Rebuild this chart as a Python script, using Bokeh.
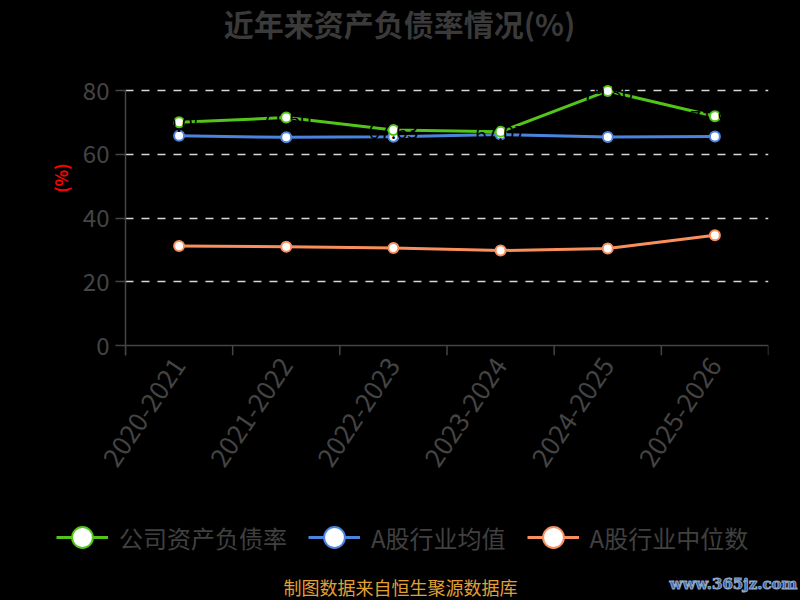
import math
from bokeh.plotting import figure
from bokeh.layouts import column
from bokeh.models import (ColumnDataSource, Legend, LegendItem, Label, Range1d,
                          CategoricalAxis, LinearAxis, FixedTicker, Span)
from bokeh.transform import dodge
from bokeh.core.properties import value
from bokeh.embed import file_html
from bokeh.resources import INLINE

# ---- data ----
years = ["2020-2021", "2021-2022", "2022-2023", "2023-2024", "2024-2025", "2025-2026"]
company = [70.05, 71.50, 67.63, 67.07, 79.86, 71.90]
industry_mean = [65.8, 65.3, 65.5, 66.2, 65.4, 65.6]
industry_median = [31.2, 31.0, 30.6, 29.8, 30.4, 34.6]
y_ticks = [0, 20, 40, 60, 80]

title_text = "近年来资产负债率情况(%)"
names = ["公司资产负债率", "A股行业均值", "A股行业中位数"]
colors = ["#52c41a", "#4b84dc", "#f98f5c"]
footer_text = "制图数据来自恒生聚源数据库"
watermark_text = "www.365jz.com"

CJK = "Noto Sans CJK SC"
GRAY = "#444444"
BG = {"background-color": "black"}

W = 800
PX_PER_UNIT = 255 / 80.0
TICK_LEN = 10
Y_LO = -TICK_LEN / PX_PER_UNIT
TOP_SPACE = 90          # px above the value 80
FRAME_H = 355           # frame height of the main plot
H1 = 490                # main plot canvas height
H2 = 600 - H1           # legend / footer strip

p = figure(width=W, height=H1, x_range=years,
           y_range=Range1d(Y_LO, 80 + TOP_SPACE / PX_PER_UNIT),
           output_backend="svg", toolbar_location=None, x_axis_location=None,
           min_border_left=125, min_border_right=32, min_border_top=0,
           min_border_bottom=H1 - FRAME_H, frame_align=False, styles=BG)
p.background_fill_color = "black"
p.border_fill_color = "black"
p.outline_line_color = None

# title inside the (extended) frame
p.add_layout(Label(x=274, y=FRAME_H - 22.5, x_units="screen", y_units="screen",
                   text=title_text, text_align="center", text_baseline="middle",
                   text_font=CJK, text_font_size="30px", text_font_style="bold",
                   text_color="#3a3a3a"))

# category labels below (no line / ticks: drawn separately at band edges)
cat_axis = CategoricalAxis(axis_line_color=None, major_tick_line_color=None,
                           major_tick_out=0, major_tick_in=0,
                           major_label_orientation=math.radians(56),
                           major_label_standoff=5,
                           major_label_text_font=CJK,
                           major_label_text_font_size="26px",
                           major_label_text_color=GRAY)
p.add_layout(cat_axis, "below")

# x axis line at 0 and ticks at band edges
p.add_layout(Span(location=0, dimension="width", line_color=GRAY, line_width=1.5))
edge_src = ColumnDataSource(dict(x=years, y0=[0] * len(years), y1=[Y_LO] * len(years)))
p.segment(x0=dodge("x", -0.5, range=p.x_range), x1=dodge("x", -0.5, range=p.x_range),
          y0="y0", y1="y1", source=edge_src, line_color=GRAY, line_width=1.5)
last_src = ColumnDataSource(dict(x=years[-1:], y0=[0], y1=[Y_LO]))
p.segment(x0=dodge("x", 0.5, range=p.x_range), x1=dodge("x", 0.5, range=p.x_range),
          y0="y0", y1="y1", source=last_src, line_color=GRAY, line_width=1.5)

# y axis
yax = p.yaxis[0]
yax.bounds = (Y_LO, 80)
yax.ticker = FixedTicker(ticks=y_ticks)
yax.axis_line_color = GRAY
yax.axis_line_width = 1.5
yax.major_tick_line_color = GRAY
yax.major_tick_line_width = 1.5
yax.major_tick_out = TICK_LEN
yax.major_tick_in = 0
yax.minor_tick_line_color = None
yax.major_label_text_font = CJK
yax.major_label_text_font_size = "24px"
yax.major_label_text_color = GRAY
yax.major_label_standoff = 6

# unit label "(%)" near the top of the value axis
unit_axis = LinearAxis(bounds=(60, 78), ticker=FixedTicker(ticks=[]),
                       axis_line_color=None, major_tick_line_color=None,
                       minor_tick_line_color=None, major_label_text_font_size="0px",
                       major_tick_out=0, major_label_standoff=0,
                       axis_label="(%)", axis_label_standoff=7,
                       axis_label_text_font=CJK, axis_label_text_font_size="17px",
                       axis_label_text_font_style="bold",
                       axis_label_text_color="red")
p.add_layout(unit_axis, "left")

p.xgrid.visible = False
p.ygrid.ticker = FixedTicker(ticks=[t for t in y_ticks if t > 0])
p.ygrid.grid_line_color = "#d8d8d8"
p.ygrid.grid_line_dash = "8 8"
p.ygrid.grid_line_width = 1.5

src = ColumnDataSource(dict(x=years, company=company, mean=industry_mean,
                            median=industry_median,
                            lbl=[f"{v:.2f}" for v in company]))

series = [("median", colors[2]), ("mean", colors[1]), ("company", colors[0])]
for key, col in series:
    p.line("x", key, source=src, line_color=col, line_width=3)
    p.scatter("x", key, source=src, size=10, fill_color="white",
              line_color=col, line_width=2)

# data labels (black, as in the reference)
p.text("x", "company", text="lbl", source=src, text_color="black",
       text_font=value(CJK), text_font_size="20px", text_align="center",
       text_baseline="middle", y_offset=2)

# ---- bottom strip: legend, footer, watermark ----
p2 = figure(width=W, height=H2, x_range=p.x_range, y_range=Range1d(0, 1),
            output_backend="svg", toolbar_location=None,
            x_axis_location=None, y_axis_location=None,
            min_border_left=0, min_border_right=0, min_border_top=0,
            min_border_bottom=0, frame_align=False, styles=BG)
p2.background_fill_color = "black"
p2.border_fill_color = "black"
p2.outline_line_color = None
p2.grid.visible = False

renders = {}
for key, col in series:
    # same series, used here only as legend keys (their values fall outside this strip's range)
    l = p2.line("x", key, source=src, line_color=col, line_width=3)
    s = p2.scatter("x", key, source=src, size=10, fill_color="white",
                   line_color=col, line_width=2)
    renders[key] = [l, s]

legend = Legend(items=[LegendItem(label=names[0], renderers=renders["company"]),
                       LegendItem(label=names[1], renderers=renders["mean"]),
                       LegendItem(label=names[2], renderers=renders["median"])],
                orientation="horizontal", location=(56, 36),
                glyph_width=52, glyph_height=54, label_standoff=11, spacing=21,
                padding=0, margin=0, border_line_color=None,
                background_fill_alpha=0,
                label_text_font=CJK, label_text_font_size="24px",
                label_text_color="#404040")
p2.add_layout(legend)

p2.add_layout(Label(x=400, y=14, x_units="screen", y_units="screen", text=footer_text,
                    text_align="center", text_baseline="middle", text_font=CJK,
                    text_font_size="18px", text_color="#e0a035"))
p2.add_layout(Label(x=733, y=17, x_units="screen", y_units="screen", text=watermark_text,
                    text_align="center", text_baseline="middle", text_font="DejaVu Serif",
                    text_font_size="15px", text_font_style="bold", text_color="#3a64a8",
                    text_outline_color="#8fa8c8"))

layout = column(p, p2, spacing=0, styles=BG)
open("out.html", "w").write(file_html(layout, INLINE))
